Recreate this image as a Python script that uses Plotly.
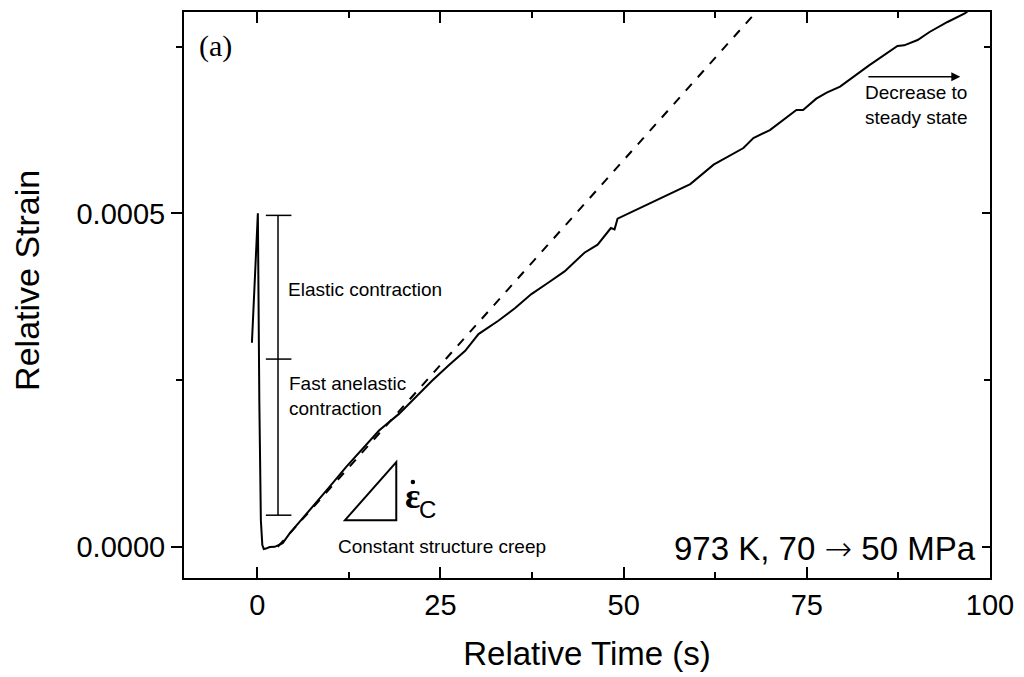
import plotly.graph_objects as go

# ---- data ----
time_s = [-0.73, 0.08, 0.28, 0.49, 0.69, 0.89, 1.17, 1.71, 2.39, 3.47, 4.42, 6.0, 7.58,
          9.8, 12.11, 14.4, 16.62, 19.34, 21.6, 23.85, 26.1, 28.38, 30.19, 32.9, 35.2,
          37.41, 39.7, 41.94, 44.65, 46.45, 48.26, 48.76, 49.17, 59.1, 62.28, 66.35,
          67.71, 69.96, 73.58, 74.49, 76.29, 77.71, 79.54, 83.5, 87.37, 88.29, 90.12,
          91.75, 94.2, 96.56, 97.6]
strain = [0.000306, 0.000500, 0.000219, 0.0000399, 0.0000025, -0.0000034, -0.0000027,
          -0.0000004, 0.0, 0.0000055, 0.0000200, 0.0000400, 0.0000598,
          0.0000890, 0.0001195, 0.0001470, 0.0001743, 0.0001993, 0.0002250, 0.000249,
          0.000272, 0.000294, 0.000319, 0.000339, 0.000358,
          0.000379, 0.000396, 0.000413, 0.000441, 0.000453, 0.000478, 0.000476, 0.000492,
          0.000544, 0.000573, 0.000598, 0.000613, 0.000625, 0.000655, 0.000655, 0.000672,
          0.000681, 0.000690, 0.000722, 0.000751, 0.000752, 0.000760, 0.000772, 0.000787,
          0.000800, 0.000808]

fit_time = [2.8, 68.0]
fit_strain = [0.0, 0.000801]

# annotation geometry (data units)
bar_x = 2.83
bar_cap_x = [1.17, 4.66]
bar_levels = [0.000497, 0.0002815, 0.0000474]
tri_x = [11.97, 18.97]
tri_y = [0.0000399, 0.000127]
rate_dot = [21.24, 0.0000971]

x_range = [-10, 100]
y_range = [-0.0000468, 0.000802]
x_ticks = [0, 25, 50, 75, 100]
y_ticks = [0.0, 0.0005]
y_tick_labels = ["0.0000", "0.0005"]

FONT = "Liberation Sans"

fig = go.Figure()
fig.add_trace(go.Scatter(x=time_s, y=strain, mode="lines",
                         line=dict(color="black", width=2), showlegend=False))
fig.add_trace(go.Scatter(x=fit_time, y=fit_strain, mode="lines",
                         line=dict(color="black", width=2, dash="dash"), showlegend=False))
# dot of the strain-rate symbol
fig.add_trace(go.Scatter(x=[rate_dot[0]], y=[rate_dot[1]], mode="markers",
                         marker=dict(color="black", size=4.5), showlegend=False, hoverinfo="skip"))
# dummy trace for right axis
fig.add_trace(go.Scatter(x=[None], y=[None], yaxis="y2", showlegend=False))

# bar with caps
fig.add_shape(type="line", x0=bar_x, x1=bar_x, y0=bar_levels[0], y1=bar_levels[2],
              line=dict(color="black", width=1.5))
for lv in bar_levels:
    fig.add_shape(type="line", x0=bar_cap_x[0], x1=bar_cap_x[1], y0=lv, y1=lv,
                  line=dict(color="black", width=1.5))
# triangle
fig.add_shape(type="path",
              path=f"M {tri_x[0]},{tri_y[0]} L {tri_x[1]},{tri_y[0]} L {tri_x[1]},{tri_y[1]} Z",
              line=dict(color="black", width=2))

ann_font = dict(family=FONT, size=19, color="black")
fig.add_annotation(x=3.88, y=0.000386, text="Elastic contraction", showarrow=False,
                   xanchor="left", yanchor="middle", font=ann_font)
fig.add_annotation(x=4.01, y=0.0002266, text="Fast anelastic<br>contraction", showarrow=False,
                   xanchor="left", yanchor="middle", align="left", font=ann_font)
fig.add_annotation(x=25.2, y=0.0, text="Constant structure creep", showarrow=False,
                   xanchor="center", yanchor="middle", font=ann_font)
fig.add_annotation(x=89.9, y=0.000663, text="Decrease to<br>steady state", showarrow=False,
                   xanchor="center", yanchor="middle", align="center", font=ann_font)
fig.add_annotation(x=95.95, y=0.000705, ax=83.2, ay=0.000705, axref="x", ayref="y",
                   text="", showarrow=True, arrowhead=2, arrowsize=1.2, arrowwidth=1.5,
                   arrowcolor="black")
fig.add_annotation(x=98.3, y=-0.000002,
                   text="973 K, 70 <span style='font-family:DejaVu Sans;font-weight:200'>→</span> 50 MPa",
                   showarrow=False, xanchor="right", yanchor="middle",
                   font=dict(family=FONT, size=33, color="black"))
fig.add_annotation(x=-8.2, y=0.000751, text="(a)", showarrow=False, xanchor="left",
                   yanchor="middle", font=dict(family="Liberation Serif", size=30, color="black"))
fig.add_annotation(x=21.17, y=0.0000757, text="<b>ε</b>", showarrow=False, xanchor="center",
                   yanchor="middle", font=dict(family="Liberation Serif", size=36, color="black"))
fig.add_annotation(x=23.2, y=0.0000556, text="C", showarrow=False, xanchor="center",
                   yanchor="middle", font=dict(family=FONT, size=24, color="black"))
# y-axis title placed as a rotated annotation to match the reference position
fig.add_annotation(xref="paper", yref="paper", x=-0.195, y=0.5264, text="Relative Strain",
                   textangle=-90, showarrow=False, xanchor="center", yanchor="middle",
                   font=dict(family=FONT, size=34, color="black"))

axis_common = dict(showline=True, linecolor="black", linewidth=2, showgrid=False,
                   zeroline=False, tickcolor="black", tickwidth=2,
                   tickfont=dict(family=FONT, size=29, color="black"))

fig.update_layout(
    width=1024, height=677, plot_bgcolor="white", paper_bgcolor="white",
    margin=dict(l=184, r=30, t=10, b=99),
    xaxis=dict(range=x_range, tickvals=x_ticks, ticks="inside", ticklen=11, mirror="ticks",
               minor=dict(dtick=12.5, tick0=0, ticks="inside", ticklen=6, tickcolor="black", tickwidth=2),
               title=dict(text="Relative Time (s)", font=dict(family=FONT, size=33, color="black"), standoff=22),
               **axis_common),
    yaxis=dict(range=y_range, tickvals=y_ticks, ticktext=y_tick_labels, ticks="outside", ticklen=11,
               minor=dict(dtick=0.00025, tick0=0, ticks="outside", ticklen=6, tickcolor="black", tickwidth=2),
               **axis_common),
    yaxis2=dict(range=y_range, overlaying="y", side="right", tickvals=y_ticks, showticklabels=False,
                ticks="inside", ticklen=8,
                minor=dict(dtick=0.00025, tick0=0, ticks="inside", ticklen=6, tickcolor="black", tickwidth=2),
                **axis_common),
)

fig.write_html("out.html")
